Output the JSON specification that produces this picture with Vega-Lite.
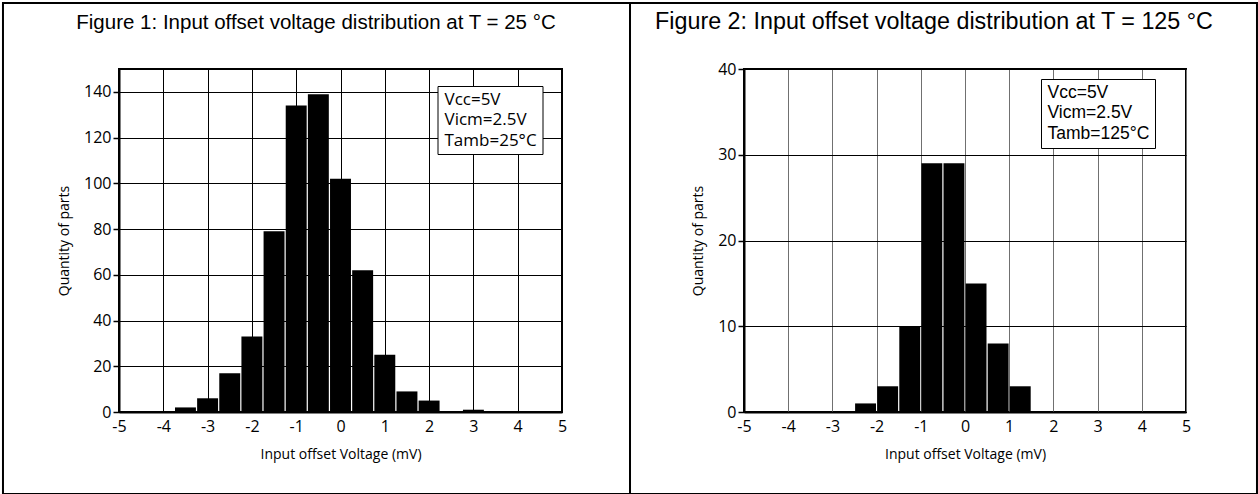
{
  "$schema": "https://vega.github.io/schema/vega-lite/v6.json",
  "padding": 0,
  "background": "white",
  "spacing": 182,
  "bounds": "flush",
  "resolve": {"scale": {"color": "independent"}, "legend": {"color": "independent"}},
  "config": {
    "view": {"stroke": "black", "strokeWidth": 2},
    "axis": {
      "gridColor": "black", "gridOpacity": 1, "gridWidth": 1,
      "domainColor": "black", "domainWidth": 2,
      "tickColor": "black", "tickWidth": 1.5,
      "labelFont": "Open Sans", "labelFontSize": 16, "labelColor": "black",
      "titleFont": "Open Sans", "titleFontSize": 14, "titleFontWeight": "normal", "titleColor": "black",
      "labelFlush": false, "labelOverlap": false,
      "labelExpr": "replace(datum.label, '−', '-')"
    },
    "axisX": {"ticks": false, "labelPadding": 6, "titlePadding": 13},
    "axisY": {"tickSize": 6, "labelPadding": 2, "titlePadding": 12},
    "title": {"font": "Liberation Sans", "fontWeight": "normal", "color": "black", "anchor": "middle", "frame": "group"},
    "legend": {
      "orient": "none", "title": null, "strokeColor": "black", "fillColor": "white",
      "padding": 5, "symbolSize": 0.01, "symbolOpacity": 0, "symbolStrokeWidth": 0,
      "rowPadding": 2.5, "labelLimit": 300, "labelColor": "black"
    }
  },
  "hconcat": [
    {
      "width": 443,
      "height": 343,
      "title": {"text": "Figure 1: Input offset voltage distribution at T = 25 °C", "dx": -24.5, "fontSize": 20.5, "offset": -31},
      "layer": [
        {
          "data": {"values": [
            {"lo": -3.75, "hi": -3.25, "n": 2},
            {"lo": -3.25, "hi": -2.75, "n": 6},
            {"lo": -2.75, "hi": -2.25, "n": 17},
            {"lo": -2.25, "hi": -1.75, "n": 33},
            {"lo": -1.75, "hi": -1.25, "n": 79},
            {"lo": -1.25, "hi": -0.75, "n": 134},
            {"lo": -0.75, "hi": -0.25, "n": 139},
            {"lo": -0.25, "hi": 0.25, "n": 102},
            {"lo": 0.25, "hi": 0.75, "n": 62},
            {"lo": 0.75, "hi": 1.25, "n": 25},
            {"lo": 1.25, "hi": 1.75, "n": 9},
            {"lo": 1.75, "hi": 2.25, "n": 5},
            {"lo": 2.75, "hi": 3.25, "n": 1}
          ]},
          "mark": {"type": "rect", "color": "black", "xOffset": 0.6, "x2Offset": -0.6},
          "encoding": {
            "x": {"field": "lo", "type": "quantitative", "scale": {"domain": [-5, 5], "nice": false, "zero": false},
                  "axis": {"values": [-5, -4, -3, -2, -1, 0, 1, 2, 3, 4, 5], "title": "Input offset Voltage (mV)", "grid": true}},
            "x2": {"field": "hi"},
            "y": {"field": "n", "type": "quantitative", "scale": {"domain": [0, 150], "nice": false},
                  "axis": {"values": [0, 10, 20, 30, 40, 50, 60, 70, 80, 90, 100, 110, 120, 130, 140], "title": "Quantity of parts", "grid": true,
                           "labelExpr": "datum.value % 20 === 0 ? datum.label : ''",
                           "gridOpacity": {"condition": {"test": "datum.value % 20 === 0", "value": 1}, "value": 0},
                           "tickSize": {"condition": {"test": "datum.value % 20 === 0", "value": 6}, "value": -5}}},
            "y2": {"datum": 0}
          }
        },
        {
          "data": {"values": [{}]},
          "mark": {"type": "rect", "filled": false, "stroke": "black", "strokeWidth": 2, "clip": false},
          "encoding": {
            "x": {"datum": -7.619, "type": "quantitative"},
            "x2": {"datum": 6.535},
            "y": {"datum": 178.86, "type": "quantitative"},
            "y2": {"datum": -35.86}
          }
        },
        {
          "data": {"values": [{"p": "Vcc=5V"}, {"p": "Vicm=2.5V"}, {"p": "Tamb=25°C"}]},
          "mark": {"type": "point", "opacity": 0, "size": 0.01},
          "encoding": {
            "color": {"field": "p", "type": "nominal",
                      "scale": {"domain": ["Vcc=5V", "Vicm=2.5V", "Tamb=25°C"], "range": ["black", "black", "black"]},
                      "legend": {"legendX": 318.5, "legendY": 17, "labelFont": "Open Sans", "labelFontSize": 17, "symbolSize": 0.01, "labelOffset": -15}}
          }
        }
      ]
    },
    {
      "width": 442,
      "height": 343,
      "title": {"text": "Figure 2: Input offset voltage distribution at T = 125 °C", "dx": -31, "fontSize": 23.3, "offset": -32},
      "layer": [
        {
          "data": {"values": [
            {"lo": -2.5, "hi": -2.0, "n": 1},
            {"lo": -2.0, "hi": -1.5, "n": 3},
            {"lo": -1.5, "hi": -1.0, "n": 10},
            {"lo": -1.0, "hi": -0.5, "n": 29},
            {"lo": -0.5, "hi": 0.0, "n": 29},
            {"lo": 0.0, "hi": 0.5, "n": 15},
            {"lo": 0.5, "hi": 1.0, "n": 8},
            {"lo": 1.0, "hi": 1.5, "n": 3}
          ]},
          "mark": {"type": "rect", "color": "black", "xOffset": 0.6, "x2Offset": -0.6},
          "encoding": {
            "x": {"field": "lo", "type": "quantitative", "scale": {"domain": [-5, 5], "nice": false, "zero": false},
                  "axis": {"values": [-5, -4, -3, -2, -1, 0, 1, 2, 3, 4, 5], "title": "Input offset Voltage (mV)", "grid": true, "gridColor": "#707070"}},
            "x2": {"field": "hi"},
            "y": {"field": "n", "type": "quantitative", "scale": {"domain": [0, 40], "nice": false},
                  "axis": {"values": [0, 10, 20, 30, 40], "title": "Quantity of parts", "grid": true}},
            "y2": {"datum": 0}
          }
        },
        {
          "data": {"values": [{}]},
          "mark": {"type": "rect", "filled": false, "stroke": "black", "strokeWidth": 2, "clip": false},
          "encoding": {
            "x": {"datum": -7.579, "type": "quantitative"},
            "x2": {"datum": 6.606},
            "y": {"datum": 47.70, "type": "quantitative"},
            "y2": {"datum": -9.56}
          }
        },
        {
          "data": {"values": [{"p": "Vcc=5V"}, {"p": "Vicm=2.5V"}, {"p": "Tamb=125°C"}]},
          "mark": {"type": "point", "opacity": 0, "size": 0.01},
          "encoding": {
            "color": {"field": "p", "type": "nominal",
                      "scale": {"domain": ["Vcc=5V", "Vicm=2.5V", "Tamb=125°C"], "range": ["black", "black", "black"]},
                      "legend": {"legendX": 297, "legendY": 10, "labelFont": "Liberation Sans", "labelFontSize": 17.5, "symbolSize": 0.01, "labelOffset": -16, "padding": 5, "rowPadding": 1.5}}
          }
        }
      ]
    }
  ]
}
